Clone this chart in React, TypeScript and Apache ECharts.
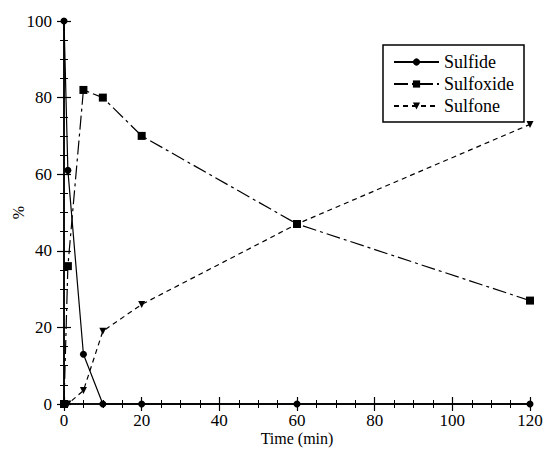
import React, { useEffect, useRef } from "react";
import * as echarts from "echarts";

const times = [0, 1, 5, 10, 20, 60, 120];
const sulfide = [100, 61, 13, 0, 0, 0, 0];
const sulfoxide = [0, 36, 82, 80, 70, 47, 27];
const sulfone = [0, 0, 3.5, 19, 26, 47, 73];
const seriesNames = ["Sulfide", "Sulfoxide", "Sulfone"];

const FONT = "Liberation Serif";

export default function App() {
  const ref = useRef<HTMLDivElement>(null);
  useEffect(() => {
    if (!ref.current) return;
    const chart = echarts.init(ref.current, null, { renderer: "svg" });
    const pair = (ys: number[]) => times.map((t, i) => [t, ys[i]]);
    const axisCommon = {
      axisLine: { show: true, lineStyle: { color: "#000", width: 1.5 } },
      axisTick: { show: true, inside: true, length: 7, lineStyle: { color: "#000", width: 1.2 } },
      minorTick: { show: true, splitNumber: 4, length: 4, lineStyle: { color: "#000", width: 1 } },
      splitLine: { show: false },
    };
    chart.setOption({
      animation: false,
      backgroundColor: "#fff",
      textStyle: { fontFamily: FONT, color: "#000" },
      grid: { left: 64, right: 14, top: 21, bottom: 45, containLabel: false, outerBoundsMode: "none" },
      legend: {
        orient: "vertical",
        left: 383,
        top: 45,
        padding: [8, 10, 7, 10],
        itemWidth: 45,
        itemHeight: 9,
        itemGap: 4,
        borderColor: "#000",
        borderWidth: 1.5,
        backgroundColor: "#fff",
        textStyle: { fontFamily: FONT, fontSize: 18, color: "#000" },
        data: seriesNames,
      },
      xAxis: [
        {
          type: "value",
          min: 0,
          max: 120,
          interval: 20,
          position: "bottom",
          name: "Time (min)",
          nameLocation: "middle",
          nameGap: 26,
          nameMoveOverlap: false,
          nameTextStyle: { fontFamily: FONT, fontSize: 16, color: "#000" },
          axisLabel: { fontFamily: FONT, fontSize: 17, color: "#000", margin: 8 },
          ...axisCommon,
        },
        {
          type: "value",
          min: 0,
          max: 120,
          interval: 20,
          position: "top",
          axisLabel: { show: false },
          ...axisCommon,
        },
      ],
      yAxis: [
        {
          type: "value",
          min: 0,
          max: 100,
          interval: 20,
          position: "left",
          name: "%",
          nameLocation: "middle",
          nameGap: 38,
          nameRotate: 90,
          nameMoveOverlap: false,
          nameTextStyle: { fontFamily: FONT, fontSize: 16, color: "#000" },
          axisLabel: { fontFamily: FONT, fontSize: 17, color: "#000", margin: 12 },
          ...axisCommon,
        },
        {
          type: "value",
          min: 0,
          max: 100,
          interval: 20,
          position: "right",
          axisLabel: { show: false },
          ...axisCommon,
        },
      ],
      series: [
        {
          name: "Sulfide",
          type: "line",
          data: pair(sulfide),
          symbol: "circle",
          symbolSize: 7,
          clip: false,
          itemStyle: { color: "#000" },
          lineStyle: { color: "#000", width: 1.2, type: "solid" },
        },
        {
          name: "Sulfoxide",
          type: "line",
          data: pair(sulfoxide),
          symbol: "rect",
          symbolSize: 8,
          clip: false,
          itemStyle: { color: "#000" },
          lineStyle: { color: "#000", width: 1.2, type: [14, 4, 3, 4] },
        },
        {
          name: "Sulfone",
          type: "line",
          data: pair(sulfone),
          symbol: "triangle",
          symbolRotate: 180,
          symbolSize: 7,
          clip: false,
          itemStyle: { color: "#000" },
          lineStyle: { color: "#000", width: 1.2, type: [5, 4] },
        },
      ],
    });
    return () => chart.dispose();
  }, []);
  return <div ref={ref} style={{ width: 544, height: 449, position: "absolute", left: 0, top: 0 }} />;
}
